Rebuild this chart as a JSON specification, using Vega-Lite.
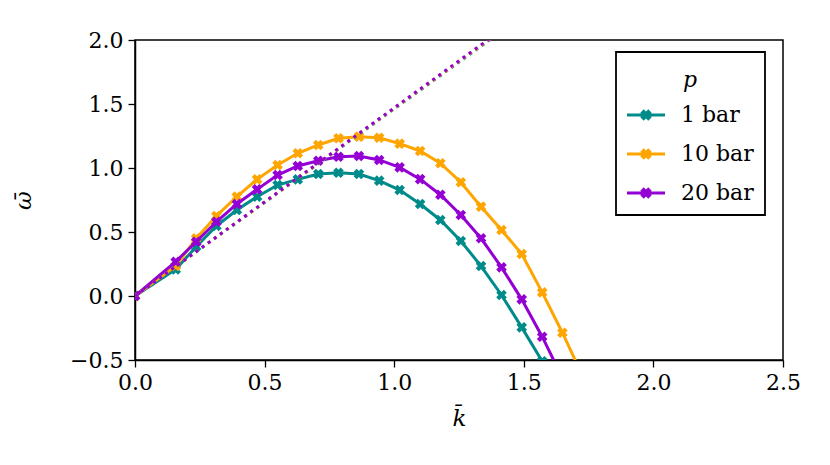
{
  "$schema": "https://vega.github.io/schema/vega-lite/v6.json",
  "width": 648,
  "height": 320,
  "autosize": {"type": "none"},
  "padding": {"left": 135, "top": 40, "right": 47, "bottom": 105},
  "background": "white",
  "config": {
    "view": {"stroke": "black", "strokeWidth": 1.5},
    "font": "DejaVu Serif",
    "axis": {
      "grid": false,
      "labelFlush": false,
      "domainColor": "black",
      "domainWidth": 1.5,
      "tickColor": "black",
      "tickWidth": 1.3,
      "tickSize": 7,
      "labelFont": "DejaVu Serif",
      "labelFontSize": 22,
      "labelColor": "black",
      "labelPadding": 5,
      "titleFont": "DejaVu Serif",
      "titleFontSize": 23,
      "titleFontStyle": "italic",
      "titleFontWeight": "normal",
      "titleColor": "black"
    },
    "legend": {
      "orient": "none",
      "legendX": 481,
      "legendY": 12,
      "padding": 11,
      "strokeColor": "black",
      "strokeWidth": 1.8,
      "fillColor": "white",
      "cornerRadius": 0,
      "titleFont": "DejaVu Serif",
      "titleFontSize": 22,
      "titleFontStyle": "italic",
      "titleFontWeight": "normal",
      "titleColor": "black",
      "titleAnchor": "middle",
      "titleAlign": "center",
      "titleBaseline": "line-top",
      "titleLineHeight": 36,
      "titlePadding": 11,
      "labelFont": "DejaVu Serif",
      "labelFontSize": 22,
      "labelColor": "black",
      "labelOffset": 16,
      "rowPadding": 9,
      "symbolSize": 1444,
      "symbolStrokeWidth": 0,
      "symbolOpacity": 1,
      "symbolType": "M-1,-0.075L1,-0.075L1,0.075L-1,0.075Z M-0.12,-0.3L0.3,0.12L0.12,0.3L-0.3,-0.12Z M-0.3,0.12L0.12,-0.3L0.3,-0.12L-0.12,0.3Z"
    }
  },
  "datasets": {
    "curves": [
      {"k": 0, "w": 0, "p": "1 bar"},
      {"k": 0.157, "w": 0.208, "p": "1 bar"},
      {"k": 0.236, "w": 0.385, "p": "1 bar"},
      {"k": 0.314, "w": 0.547, "p": "1 bar"},
      {"k": 0.393, "w": 0.672, "p": "1 bar"},
      {"k": 0.471, "w": 0.776, "p": "1 bar"},
      {"k": 0.55, "w": 0.867, "p": "1 bar"},
      {"k": 0.628, "w": 0.911, "p": "1 bar"},
      {"k": 0.707, "w": 0.953, "p": "1 bar"},
      {"k": 0.785, "w": 0.963, "p": "1 bar"},
      {"k": 0.864, "w": 0.953, "p": "1 bar"},
      {"k": 0.942, "w": 0.901, "p": "1 bar"},
      {"k": 1.021, "w": 0.828, "p": "1 bar"},
      {"k": 1.1, "w": 0.719, "p": "1 bar"},
      {"k": 1.178, "w": 0.594, "p": "1 bar"},
      {"k": 1.257, "w": 0.43, "p": "1 bar"},
      {"k": 1.335, "w": 0.234, "p": "1 bar"},
      {"k": 1.414, "w": 0.008, "p": "1 bar"},
      {"k": 1.492, "w": -0.245, "p": "1 bar"},
      {"k": 1.571, "w": -0.51, "p": "1 bar"},
      {"k": 1.649, "w": -0.79, "p": "1 bar"},
      {"k": 0, "w": 0, "p": "10 bar"},
      {"k": 0.157, "w": 0.234, "p": "10 bar"},
      {"k": 0.236, "w": 0.45, "p": "10 bar"},
      {"k": 0.314, "w": 0.625, "p": "10 bar"},
      {"k": 0.393, "w": 0.776, "p": "10 bar"},
      {"k": 0.471, "w": 0.911, "p": "10 bar"},
      {"k": 0.55, "w": 1.023, "p": "10 bar"},
      {"k": 0.628, "w": 1.115, "p": "10 bar"},
      {"k": 0.707, "w": 1.18, "p": "10 bar"},
      {"k": 0.785, "w": 1.232, "p": "10 bar"},
      {"k": 0.864, "w": 1.245, "p": "10 bar"},
      {"k": 0.942, "w": 1.236, "p": "10 bar"},
      {"k": 1.021, "w": 1.19, "p": "10 bar"},
      {"k": 1.1, "w": 1.133, "p": "10 bar"},
      {"k": 1.178, "w": 1.037, "p": "10 bar"},
      {"k": 1.257, "w": 0.889, "p": "10 bar"},
      {"k": 1.335, "w": 0.698, "p": "10 bar"},
      {"k": 1.414, "w": 0.516, "p": "10 bar"},
      {"k": 1.492, "w": 0.328, "p": "10 bar"},
      {"k": 1.571, "w": 0.028, "p": "10 bar"},
      {"k": 1.649, "w": -0.287, "p": "10 bar"},
      {"k": 1.728, "w": -0.63, "p": "10 bar"},
      {"k": 0, "w": 0, "p": "20 bar"},
      {"k": 0.157, "w": 0.268, "p": "20 bar"},
      {"k": 0.236, "w": 0.424, "p": "20 bar"},
      {"k": 0.314, "w": 0.58, "p": "20 bar"},
      {"k": 0.393, "w": 0.719, "p": "20 bar"},
      {"k": 0.471, "w": 0.833, "p": "20 bar"},
      {"k": 0.55, "w": 0.945, "p": "20 bar"},
      {"k": 0.628, "w": 1.016, "p": "20 bar"},
      {"k": 0.707, "w": 1.057, "p": "20 bar"},
      {"k": 0.785, "w": 1.088, "p": "20 bar"},
      {"k": 0.864, "w": 1.094, "p": "20 bar"},
      {"k": 0.942, "w": 1.063, "p": "20 bar"},
      {"k": 1.021, "w": 1.005, "p": "20 bar"},
      {"k": 1.1, "w": 0.913, "p": "20 bar"},
      {"k": 1.178, "w": 0.791, "p": "20 bar"},
      {"k": 1.257, "w": 0.633, "p": "20 bar"},
      {"k": 1.335, "w": 0.451, "p": "20 bar"},
      {"k": 1.414, "w": 0.224, "p": "20 bar"},
      {"k": 1.492, "w": -0.026, "p": "20 bar"},
      {"k": 1.571, "w": -0.318, "p": "20 bar"},
      {"k": 1.649, "w": -0.64, "p": "20 bar"}
    ],
    "asymptotes": [
      {"k": 0, "w": 0, "p": "1 bar"},
      {"k": 1.6, "w": 2.339, "p": "1 bar"},
      {"k": 0, "w": 0, "p": "10 bar"},
      {"k": 1.6, "w": 2.346, "p": "10 bar"},
      {"k": 0, "w": 0, "p": "20 bar"},
      {"k": 1.6, "w": 2.352, "p": "20 bar"}
    ]
  },
  "encoding": {
    "x": {
      "field": "k",
      "type": "quantitative",
      "title": "k\u0304",
      "scale": {"domain": [0, 2.5], "nice": false},
      "axis": {"values": [0, 0.5, 1, 1.5, 2, 2.5], "format": ".1f", "titlePadding": 14}
    },
    "y": {
      "field": "w",
      "type": "quantitative",
      "title": "ω\u0304",
      "scale": {"domain": [-0.5, 2], "nice": false},
      "axis": {"values": [-0.5, 0, 0.5, 1, 1.5, 2], "format": ".1f", "titlePadding": 34}
    }
  },
  "layer": [
    {
      "mark": {"type": "rule", "color": "black", "strokeWidth": 1},
      "encoding": {"x": null, "y": {"datum": 0}}
    },
    {
      "data": {"name": "curves"},
      "transform": [{"filter": "datum.p === '1 bar'"}],
      "mark": {"type": "line", "strokeWidth": 3, "clip": true, "color": "#008b8b"}
    },
    {
      "data": {"name": "curves"},
      "transform": [{"filter": "datum.p === '1 bar'"}],
      "mark": {"type": "point", "shape": "cross", "angle": 45, "filled": true, "size": 115, "opacity": 1, "clip": true},
      "encoding": {
        "color": {"field": "p", "type": "nominal",
          "scale": {"domain": ["1 bar", "10 bar", "20 bar"], "range": ["#008b8b", "#ffa500", "#9400d3"]}}
      }
    },
    {
      "data": {"name": "curves"},
      "transform": [{"filter": "datum.p === '10 bar'"}],
      "mark": {"type": "line", "strokeWidth": 3, "clip": true, "color": "#ffa500"}
    },
    {
      "data": {"name": "curves"},
      "transform": [{"filter": "datum.p === '10 bar'"}],
      "mark": {"type": "point", "shape": "cross", "angle": 45, "filled": true, "size": 115, "opacity": 1, "clip": true},
      "encoding": {
        "color": {"field": "p", "type": "nominal",
          "scale": {"domain": ["1 bar", "10 bar", "20 bar"], "range": ["#008b8b", "#ffa500", "#9400d3"]}}
      }
    },
    {
      "data": {"name": "curves"},
      "transform": [{"filter": "datum.p === '20 bar'"}],
      "mark": {"type": "line", "strokeWidth": 3, "clip": true, "color": "#9400d3"}
    },
    {
      "data": {"name": "curves"},
      "transform": [{"filter": "datum.p === '20 bar'"}],
      "mark": {"type": "point", "shape": "cross", "angle": 45, "filled": true, "size": 115, "opacity": 1, "clip": true},
      "encoding": {
        "color": {"field": "p", "type": "nominal",
          "scale": {"domain": ["1 bar", "10 bar", "20 bar"], "range": ["#008b8b", "#ffa500", "#9400d3"]}}
      }
    },
    {
      "data": {"name": "asymptotes"},
      "transform": [{"filter": "datum.p === '1 bar'"}],
      "mark": {"type": "line", "strokeWidth": 3, "strokeDash": [3, 4.5], "clip": true, "color": "#008b8b"}
    },
    {
      "data": {"name": "asymptotes"},
      "transform": [{"filter": "datum.p === '10 bar'"}],
      "mark": {"type": "line", "strokeWidth": 3, "strokeDash": [3, 4.5], "clip": true, "color": "#ffa500"}
    },
    {
      "data": {"name": "asymptotes"},
      "transform": [{"filter": "datum.p === '20 bar'"}],
      "mark": {"type": "line", "strokeWidth": 3, "strokeDash": [3, 4.5], "clip": true, "color": "#9400d3"}
    }
  ]
}
